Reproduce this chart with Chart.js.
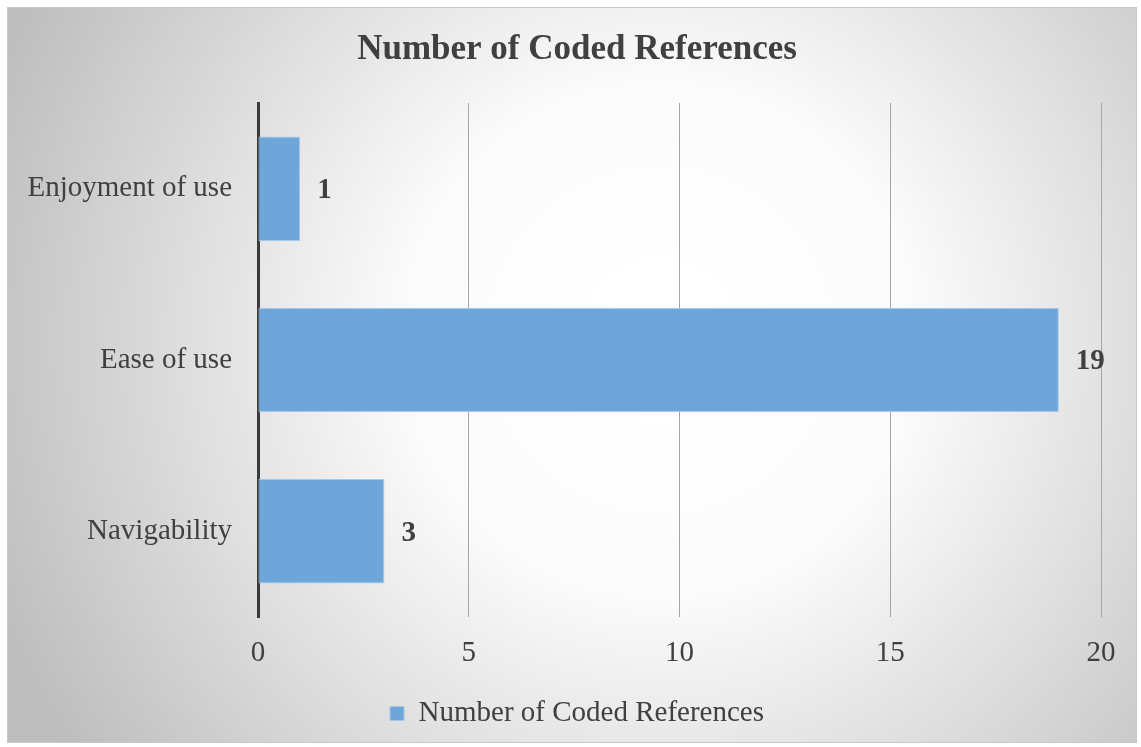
<!DOCTYPE html>
<html>
<head>
<meta charset="utf-8">
<script src="https://cdn.jsdelivr.net/npm/chart.js@4.4.1/dist/chart.umd.min.js"></script>
<style>
  html, body { margin: 0; padding: 0; background: #fff; }
  #wrap { width: 1141px; height: 747px; }
</style>
</head>
<body>
<div id="wrap"><canvas id="chart" width="1141" height="747"></canvas></div>
<script>
// chart data
const categories = ['Enjoyment of use', 'Ease of use', 'Navigability'];
const codedRefs = [1, 19, 3];
const xTicks = [0, 5, 10, 15, 20];

const textColor = '#404040';
const serif = '"Liberation Serif", "Times New Roman", serif';

// frame + radial gradient background
const bgPlugin = {
  id: 'bg',
  beforeDraw(chart) {
    const c = chart.ctx;
    const w = chart.width, h = chart.height;
    c.save();
    c.fillStyle = '#fff';
    c.fillRect(0, 0, w, h);
    const g = c.createRadialGradient(660, 340, 60, 660, 340, 720);
    g.addColorStop(0, '#ffffff');
    g.addColorStop(0.3, '#fbfbfb');
    g.addColorStop(1, '#bdbdbd');
    c.fillStyle = g;
    c.fillRect(7, 7, w - 11, h - 11);
    c.strokeStyle = '#c8c8c8';
    c.lineWidth = 1;
    c.strokeRect(7.5, 7.5, w - 12, h - 12);
    c.restore();
  }
};

// bold value labels at bar ends
const valueLabels = {
  id: 'valueLabels',
  afterDatasetsDraw(chart) {
    const c = chart.ctx;
    const meta = chart.getDatasetMeta(0);
    c.save();
    c.font = 'bold 29px ' + serif;
    c.fillStyle = textColor;
    c.textAlign = 'left';
    c.textBaseline = 'middle';
    meta.data.forEach((bar, i) => {
      c.fillText(String(codedRefs[i]), bar.x + 17, bar.y + 2);
    });
    c.restore();
  }
};

new Chart(document.getElementById('chart').getContext('2d'), {
  type: 'bar',
  data: {
    labels: categories,
    datasets: [{
      label: 'Number of Coded References',
      data: codedRefs,
      backgroundColor: '#6fa6d9',
      borderColor: '#a8c8ea',
      borderWidth: 1,
      borderSkipped: false,
      barPercentage: 0.61,
      categoryPercentage: 1
    }]
  },
  options: {
    indexAxis: 'y',
    responsive: false,
    animation: false,
    layout: { padding: { left: 13, right: 0, top: 0, bottom: 9 } },
    plugins: {
      title: {
        display: true,
        text: 'Number of Coded References',
        color: textColor,
        font: { family: serif, size: 35, weight: 'bold' },
        padding: { top: 29, bottom: 32 }
      },
      legend: {
        position: 'bottom',
        labels: {
          color: textColor,
          font: { family: serif, size: 29 },
          boxWidth: 14,
          boxHeight: 14,
          padding: 21
        }
      },
      tooltip: { enabled: false }
    },
    scales: {
      x: {
        min: 0,
        max: 20,
        afterBuildTicks: s => { s.ticks = xTicks.map(v => ({ value: v })); },
        afterFit: s => { s.height = 61; s.paddingRight = 40; },
        grid: { color: '#a6a6a6', lineWidth: 1, drawTicks: false },
        border: { display: false },
        ticks: { color: textColor, font: { family: serif, size: 29 }, padding: 19 }
      },
      y: {
        afterFit: s => { s.width = 245; },
        grid: { display: false, drawTicks: false },
        border: { color: '#3a3a3a', width: 3 },
        ticks: { color: textColor, font: { family: serif, size: 29 }, padding: 26 }
      }
    }
  },
  plugins: [bgPlugin, valueLabels]
});
</script>
</body>
</html>
